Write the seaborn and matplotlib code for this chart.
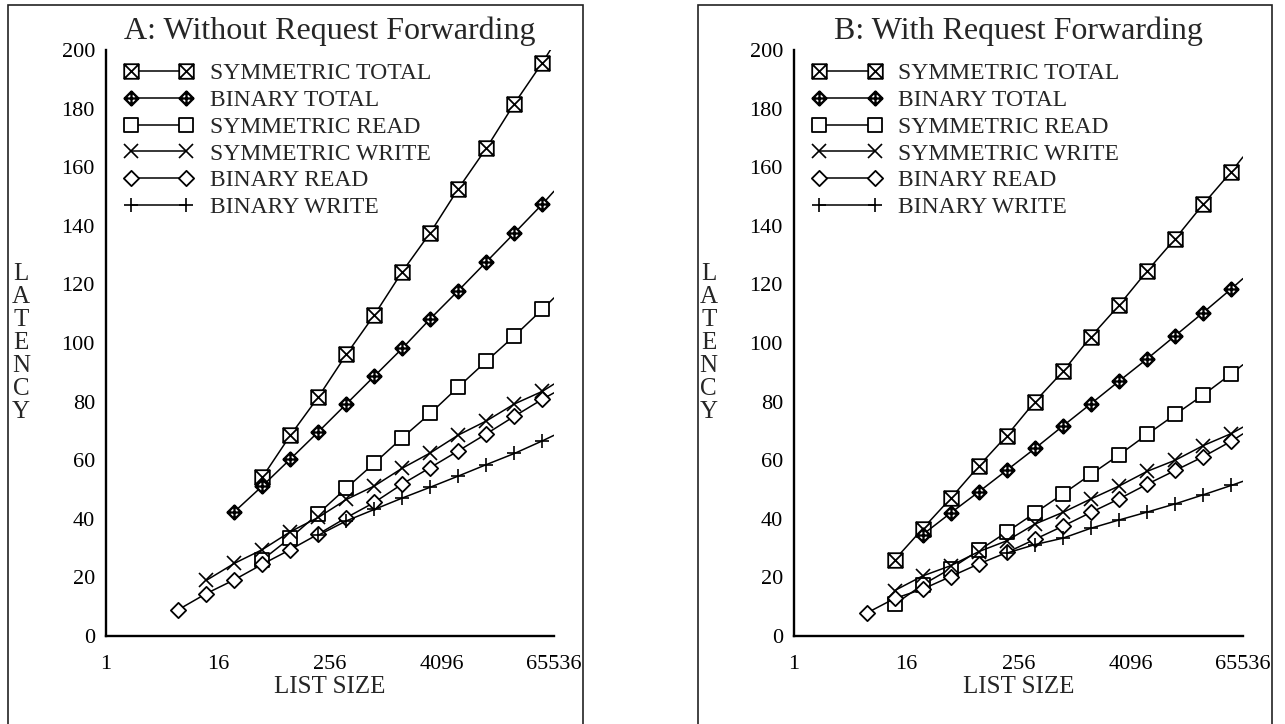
import numpy as np
import matplotlib
matplotlib.use("Agg")
import matplotlib.pyplot as plt
from matplotlib.path import Path
from matplotlib.lines import Line2D
from matplotlib.patches import Rectangle
import seaborn as sns

sns.set_style("white")
plt.rcParams["font.family"] = ["Liberation Serif", "DejaVu Serif"]

nan = np.nan

# List sizes at which latency was measured; the line of every series runs on to 65536
sizes = [6, 12, 24, 48, 96, 192, 384, 768, 1536, 3072, 6144, 12288, 24576, 49152]
edge_size = 65536

x_ticks = [1, 16, 256, 4096, 65536]
x_tick_labels = ["1", "16", "256", "4096", "65536"]
y_ticks = [0, 20, 40, 60, 80, 100, 120, 140, 160, 180, 200]

series_names = ["SYMMETRIC TOTAL", "BINARY TOTAL", "SYMMETRIC READ",
                "SYMMETRIC WRITE", "BINARY READ", "BINARY WRITE"]

# Panel A: without request forwarding
sym_total_a = [nan, nan, nan, 54.2, 68.5, 81.6, 96.1, 109.6, 124.4, 137.7, 152.7, 166.5, 181.7, 195.7]
bin_total_a = [nan, nan, 42.4, 51.2, 60.4, 69.7, 79.2, 88.7, 98.2, 108.3, 117.9, 127.7, 137.5, 147.4]
sym_read_a = [nan, nan, nan, 26.0, 33.5, 41.8, 50.5, 59.0, 67.7, 76.0, 85.0, 93.8, 102.4, 111.5]
sym_write_a = [nan, 19.0, 24.8, 29.5, 35.6, 40.5, 46.6, 51.2, 57.3, 62.5, 68.6, 73.4, 79.2, 83.5]
bin_read_a = [9.0, 14.5, 19.2, 24.5, 29.5, 34.8, 40.4, 45.6, 51.9, 57.5, 63.2, 69.0, 75.0, 80.8]
bin_write_a = [nan, nan, nan, nan, nan, 34.4, 39.3, 43.2, 47.1, 50.8, 54.6, 58.5, 62.3, 66.6]
edge_a = [202.0, 151.8, 115.4, 86.0, 83.0, 68.5]

# Panel B: with request forwarding
sym_total_b = [nan, 26.0, 36.6, 47.0, 58.0, 68.4, 80.0, 90.3, 102.2, 112.9, 124.6, 135.6, 147.4, 158.5]
bin_total_b = [nan, nan, 34.6, 42.0, 49.2, 56.6, 64.0, 71.7, 79.3, 87.0, 94.6, 102.5, 110.4, 118.5]
sym_read_b = [nan, 10.8, 17.5, 23.0, 29.2, 35.5, 42.0, 48.5, 55.2, 61.8, 68.8, 75.6, 82.3, 89.5]
sym_write_b = [nan, 15.5, 20.5, 24.0, 28.8, 32.5, 38.2, 42.2, 46.8, 51.2, 56.2, 60.0, 65.0, 69.1]
bin_read_b = [7.8, 12.8, 16.0, 20.3, 24.6, 28.5, 33.0, 37.5, 42.2, 46.8, 51.8, 56.5, 61.2, 66.5]
bin_write_b = [nan, nan, nan, nan, nan, 28.3, 31.2, 33.4, 36.8, 39.6, 42.3, 45.1, 48.2, 51.4]
edge_b = [163.5, 122.0, 92.6, 71.3, 69.0, 52.8]

# Marker shapes
M, L, C = Path.MOVETO, Path.LINETO, Path.CLOSEPOLY
square = Path([(-1, -1), (1, -1), (1, 1), (-1, 1), (-1, -1)], [M, L, L, L, C])
square_x = Path([(-1, -1), (1, -1), (1, 1), (-1, 1), (-1, -1),
                 (-1, -1), (1, 1), (-1, 1), (1, -1)],
                [M, L, L, L, C, M, L, M, L])
diamond = Path([(0, -1), (1, 0), (0, 1), (-1, 0), (0, -1)], [M, L, L, L, C])
diamond_plus = Path([(0, -1), (1, 0), (0, 1), (-1, 0), (0, -1),
                     (0, -1), (0, 1), (-1, 0), (1, 0)],
                    [M, L, L, L, C, M, L, M, L])

styles = [
    dict(marker=square_x, markersize=10.5, markeredgewidth=1.3),
    dict(marker=diamond_plus, markersize=10, markeredgewidth=1.7),
    dict(marker=square, markersize=10.5, markeredgewidth=1.3),
    dict(marker="x", markersize=10, markeredgewidth=1.2),
    dict(marker=diamond, markersize=11, markeredgewidth=1.3),
    dict(marker="+", markersize=10, markeredgewidth=1.2),
]

TICK_FS = 16
LEGEND_FS = 17


def draw_panel(ax, title, series, edges):
    for name, vals, end, st in zip(series_names, series, edges, styles):
        xs = [s for s, v in zip(sizes, vals) if not np.isnan(v)] + [edge_size]
        ys = [v for v in vals if not np.isnan(v)] + [end]
        sns.lineplot(x=xs, y=ys, ax=ax, color="black", linewidth=1.1,
                     markerfacecolor="white", markeredgecolor="black",
                     markevery=list(range(len(xs) - 1)), legend=False,
                     estimator=None, sort=False, **st)

    ax.set_xscale("log", base=2)
    ax.set_xlim(1, 65536)
    ax.set_ylim(0, 200)
    ax.set_xticks(x_ticks)
    ax.set_xticklabels(x_tick_labels)
    ax.minorticks_off()
    ax.set_yticks(y_ticks)
    ax.set_yticklabels([str(v) for v in y_ticks])
    ax.tick_params(axis="both", direction="out", length=6, width=1.5,
                   labelsize=TICK_FS, colors="black")
    ax.tick_params(axis="y", pad=2)
    ax.tick_params(axis="x", pad=8)
    for side in ("top", "right"):
        ax.spines[side].set_visible(False)
    for side in ("left", "bottom"):
        ax.spines[side].set_linewidth(1.7)
        ax.spines[side].set_color("black")
    ax.set_xlabel("LIST SIZE", fontsize=18, labelpad=1)
    ax.set_ylabel("")
    ax.text(-0.19, 0.5, "\n".join("LATENCY"), transform=ax.transAxes,
            fontsize=18, ha="center", va="center", linespacing=1.05)
    ax.set_title(title, fontsize=23, pad=8)

    handles = [Line2D([], [], color="black", linewidth=1.1,
                      markerfacecolor="white", markeredgecolor="black", **st)
               for st in styles]
    ax.legend(handles, series_names, loc="upper left",
              bbox_to_anchor=(0.04, 0.978), frameon=False, numpoints=2,
              handlelength=2.95, handletextpad=0.7, labelspacing=0.22,
              borderpad=0, borderaxespad=0, fontsize=LEGEND_FS)


fig = plt.figure(figsize=(12.85, 7.24), dpi=100)
W, H = 1285, 724
ax_a = fig.add_axes([106 / W, 1 - 636 / H, 448 / W, 586 / H])
ax_b = fig.add_axes([794 / W, 1 - 636 / H, 449 / W, 586 / H])

draw_panel(ax_a, "A: Without Request Forwarding",
           [sym_total_a, bin_total_a, sym_read_a, sym_write_a, bin_read_a, bin_write_a], edge_a)
draw_panel(ax_b, "B: With Request Forwarding",
           [sym_total_b, bin_total_b, sym_read_b, sym_write_b, bin_read_b, bin_write_b], edge_b)

# Outer boxes around each panel
for x0, x1 in [(8, 583), (698, 1272)]:
    fig.add_artist(Rectangle((x0 / W, -0.05), (x1 - x0) / W, 1.05 - 5 / H,
                             transform=fig.transFigure, fill=False,
                             linewidth=1.2, edgecolor="#222222"))

fig.savefig("out.png", dpi=100, facecolor="white")
